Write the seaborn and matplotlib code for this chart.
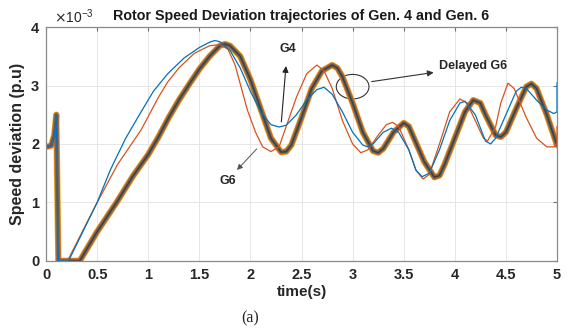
import matplotlib
matplotlib.use("Agg")
import matplotlib.pyplot as plt
import pandas as pd
import seaborn as sns
from matplotlib.patches import Ellipse

# time (s) and speed deviation (x1e-3 p.u)
t_g4 = [0, 0.05, 0.08, 0.10, 0.12, 0.22, 0.5, 0.63, 0.78, 0.93, 1.05, 1.19, 1.35, 1.5, 1.6, 1.65,
        1.7, 1.8, 1.9, 2.0, 2.1, 2.2, 2.28, 2.35, 2.45, 2.55, 2.65, 2.72, 2.8, 2.9, 3.0, 3.1,
        3.15, 3.2, 3.3, 3.38, 3.45, 3.55, 3.62, 3.68, 3.75, 3.85, 3.95, 4.05, 4.1, 4.2, 4.3,
        4.35, 4.4, 4.5, 4.6, 4.65, 4.7, 4.8, 4.9, 4.97, 5.0, 5.0]
g4 = [1.95, 1.97, 2.15, 2.5, 0, 0, 1.0, 1.56, 2.1, 2.55, 2.9, 3.2, 3.47, 3.65, 3.74, 3.77,
      3.75, 3.6, 3.3, 2.9, 2.55, 2.33, 2.29, 2.32, 2.5, 2.75, 2.93, 2.97, 2.85, 2.55, 2.2, 1.98,
      1.95, 2.0, 2.2, 2.27, 2.2, 1.9, 1.55, 1.44, 1.5, 1.9, 2.4, 2.7, 2.73, 2.5, 2.05,
      2.0, 2.1, 2.5, 2.9, 2.97, 2.95, 2.75, 2.58, 2.52, 2.55, 3.05]

t_g6 = [0, 0.05, 0.08, 0.10, 0.12, 0.21, 0.5, 0.7, 0.93, 1.1, 1.19, 1.3, 1.45, 1.6, 1.7, 1.78,
        1.85, 1.92, 1.97, 2.05, 2.12, 2.2, 2.28, 2.35, 2.45, 2.55, 2.65, 2.72, 2.8, 2.9, 3.0,
        3.08, 3.15, 3.25, 3.33, 3.39, 3.45, 3.55, 3.62, 3.69, 3.75, 3.85, 3.95, 4.05, 4.12,
        4.2, 4.28, 4.32, 4.4, 4.45, 4.52, 4.58, 4.7, 4.8, 4.9, 4.97, 5.0, 5.0]
g6 = [1.95, 1.97, 2.15, 2.5, 0, 0, 1.0, 1.65, 2.24, 2.8, 3.06, 3.3, 3.55, 3.68, 3.7, 3.62,
      3.35, 2.9, 2.58, 2.2, 1.95, 1.87, 1.95, 2.3, 2.8, 3.2, 3.35, 3.25, 2.95, 2.4, 2.0,
      1.85, 1.9, 2.15, 2.33, 2.37, 2.3, 1.9, 1.55, 1.4, 1.48, 2.0, 2.55, 2.77, 2.7,
      2.4, 2.1, 2.05, 2.3, 2.7, 3.04, 2.95, 2.45, 2.1, 1.95, 1.95, 2.0, 2.3]

t_d6 = [0, 0.05, 0.08, 0.10, 0.12, 0.33, 0.5, 0.69, 0.85, 1.0, 1.1, 1.2, 1.3, 1.4, 1.5, 1.6,
        1.7, 1.75, 1.8, 1.9, 2.0, 2.1, 2.2, 2.3, 2.35, 2.4, 2.5, 2.6, 2.7, 2.8, 2.85, 2.9,
        3.0, 3.1, 3.2, 3.25, 3.3, 3.4, 3.5, 3.55, 3.6, 3.7, 3.8, 3.85, 3.9, 4.0, 4.1, 4.18,
        4.25, 4.3, 4.4, 4.45, 4.5, 4.6, 4.7, 4.75, 4.8, 4.9, 5.0]
d6 = [1.95, 1.97, 2.15, 2.5, 0, 0, 0.5, 1.0, 1.45, 1.82, 2.12, 2.45, 2.75, 3.02, 3.28, 3.5,
      3.68, 3.71, 3.68, 3.5, 3.1, 2.6, 2.1, 1.86, 1.87, 1.98, 2.45, 2.95, 3.25, 3.35, 3.3, 3.15,
      2.7, 2.2, 1.88, 1.85, 1.92, 2.2, 2.36, 2.3, 2.1, 1.7, 1.43, 1.46, 1.65, 2.1, 2.55, 2.75,
      2.7, 2.5, 2.15, 2.12, 2.2, 2.6, 2.98, 3.03, 2.95, 2.5, 1.98]

x_ticks = [0, 0.5, 1, 1.5, 2, 2.5, 3, 3.5, 4, 4.5, 5]
x_labels = ["0", "0.5", "1", "1.5", "2", "2.5", "3", "3.5", "4", "4.5", "5"]
y_ticks = [0, 1, 2, 3, 4]

sns.set_style("white")
plt.rcParams['font.family'] = ['Liberation Sans', 'DejaVu Sans']

fig = plt.figure(figsize=(5.76, 3.34), dpi=100)
ax = fig.add_axes([0.080, 0.219, 0.887, 0.700])

df4 = pd.DataFrame({"t": t_g4, "w": g4})
df6 = pd.DataFrame({"t": t_g6, "w": g6})
dd6 = pd.DataFrame({"t": t_d6, "w": d6})

# delayed G6 bundle (several overlapping traces)
for col, lw in [("#EDB120", 4.6), ("#D95319", 3.6), ("#8c7a5a", 2.8), ("#5e5e5e", 2.0), ("#3c3c3c", 0.8)]:
    sns.lineplot(data=dd6, x="t", y="w", color=col, lw=lw, estimator=None, sort=False, ax=ax)
sns.lineplot(data=df6, x="t", y="w", color="#D95319", lw=0.9, estimator=None, sort=False, ax=ax)
sns.lineplot(data=df4, x="t", y="w", color="#0072BD", lw=0.9, estimator=None, sort=False, ax=ax)

ax.set_xlim(0, 5)
ax.set_ylim(0, 4)
ax.set_xticks(x_ticks)
ax.set_xticklabels(x_labels)
ax.set_yticks(y_ticks)
ax.grid(True, color="#e6e6e6", lw=0.7)
ax.tick_params(direction="in", length=3, top=True, right=True, color="#707070",
               labelsize=10.5, labelcolor="#262626", pad=5)
for lab in ax.get_xticklabels() + ax.get_yticklabels():
    lab.set_fontweight("bold")
for sp in ax.spines.values():
    sp.set_color("#8a8a8a")
    sp.set_linewidth(0.9)

ax.set_xlabel("time(s)", fontsize=11, fontweight="bold", color="#262626", labelpad=2)
ax.set_ylabel("Speed deviation (p.u)", fontsize=11.5, fontweight="bold", color="#262626", labelpad=4)
ax.set_title("Rotor Speed Deviation trajectories of Gen. 4 and Gen. 6",
             fontsize=10.3, fontweight="bold", color="#1a1a1a", pad=5)
ax.text(0.015, 1.005, r"$\times\mathregular{10^{-3}}$", transform=ax.transAxes,
        fontsize=10, color="#262626", ha="left", va="bottom")

# annotations
ax.annotate("", xy=(2.35, 3.38), xytext=(2.3, 2.33),
            arrowprops=dict(arrowstyle="-|>", color="#222222", lw=0.8, mutation_scale=9))
ax.text(2.37, 3.62, "G4", fontsize=9, fontweight="bold", ha="center", va="center")
ax.annotate("", xy=(1.85, 1.52), xytext=(2.08, 1.95),
            arrowprops=dict(arrowstyle="-|>", color="#555555", lw=0.7, mutation_scale=8))
ax.text(1.78, 1.36, "G6", fontsize=9, fontweight="bold", ha="center", va="center")
ax.add_patch(Ellipse((3.0, 2.98), 0.32, 0.42, fill=False, ec="#333333", lw=0.8))
ax.annotate("", xy=(3.82, 3.23), xytext=(3.16, 3.06),
            arrowprops=dict(arrowstyle="-|>", color="#333333", lw=0.8, mutation_scale=9))
ax.text(3.85, 3.33, "Delayed G6", fontsize=9, fontweight="bold", ha="left", va="center")

fig.text(250 / 576, 1 - 318 / 334, "(a)", fontsize=11.5, family=["Liberation Serif", "DejaVu Serif"],
         ha="center", va="center")

fig.savefig("out.png", dpi=100)
